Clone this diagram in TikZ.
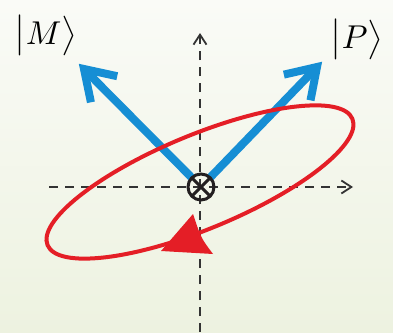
\documentclass[tikz,border=0pt]{standalone}
\usetikzlibrary{arrows.meta,calc}
\definecolor{bgtop}{HTML}{FAFBF7}
\definecolor{bgbot}{HTML}{EDF2E0}
\definecolor{myblue}{RGB}{22,142,212}
\definecolor{myred}{RGB}{228,30,38}
\definecolor{axisgray}{HTML}{333333}
\definecolor{darkring}{HTML}{231F20}
\newcommand{\ketlbl}[1]{{\boldmath$\bigl|$}$#1${\boldmath$\bigr\rangle$}}
\begin{document}
\begin{tikzpicture}[x=1pt,y=-1pt,
  axisline/.style={axisgray, line width=1.8pt, dash pattern=on 9pt off 7pt,
    -{Straight Barb[length=10pt,width=13pt]}},
  blueline/.style={myblue, line width=8pt},
  bluehead/.style={myblue, line width=8pt, line join=miter, miter limit=10},
  redline/.style={myred, line width=4pt},
  ring/.style={circle, draw=darkring, line width=3pt, minimum size=26pt, inner sep=0pt, outer sep=0pt},
  label/.style={scale=3.3, inner sep=0pt, anchor=base, text=black}
]
\useasboundingbox (0,0) rectangle (393,332);
\shade[top color=bgtop, bottom color=bgbot] (0,0) rectangle (393,332);

% named points
\coordinate (O) at (201,187);
\coordinate (xs) at (49,187);
\coordinate (xe) at (353,187);
\coordinate (ys) at (200,332);
\coordinate (ye) at (200,33);
\coordinate (Mv) at (84,69);
\coordinate (Pv) at (317,67);
\coordinate (E) at (200,182);
\path node[ring, draw=none] (ot) at (O) {};

% axes
\draw[axisline] (xs) -- (xe);
\draw[axisline] (ys) -- (ye);

% blue state vectors
\draw[blueline] (ot) -- (Mv);
\draw[bluehead] ($(Mv)!34pt!33:(O)$) -- (Mv) -- ($(Mv)!34pt!-33:(O)$);
\draw[blueline] (ot) -- (Pv);
\draw[bluehead] ($(Pv)!34pt!33:(O)$) -- (Pv) -- ($(Pv)!34pt!-33:(O)$);

% red polarisation ellipse
\draw[redline, rotate around={22.5:(E)}] (E) ellipse [x radius=165pt, y radius=47pt];
\fill[myred] (161,251) -- (193,214) .. controls (201,238) .. (213,254) -- cycle;

% otimes
\node[ring] (otv) at (O) {};
\draw[darkring, line width=3pt] (otv.45) -- (otv.225);
\draw[darkring, line width=3pt] (otv.135) -- (otv.315);

% labels
\node[label] (lm) at (46,44) {\ketlbl{M}};
\node[label] (lp) at (357,48) {\ketlbl{P}};
\end{tikzpicture}
\end{document}
